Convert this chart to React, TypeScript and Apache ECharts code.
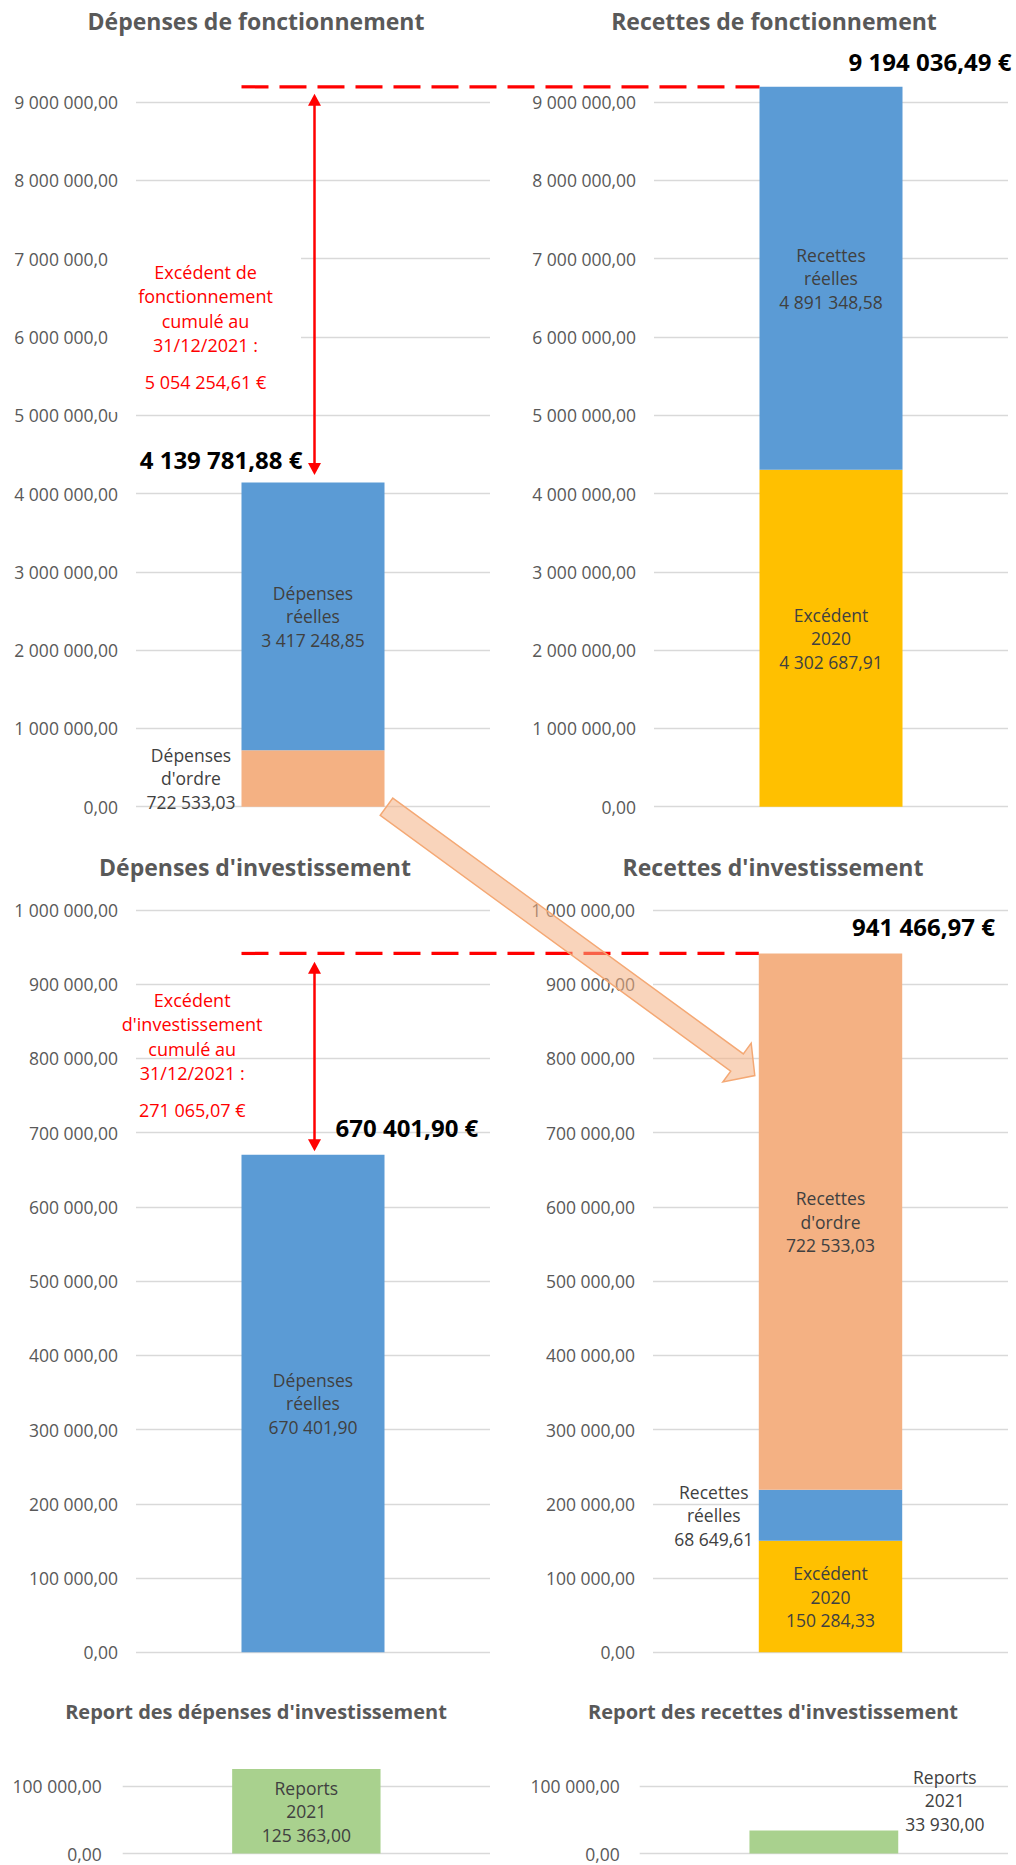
import React, { useEffect, useRef } from 'react';
import * as echarts from 'echarts';

// ---------- Data ----------
const categories = ['Total'];
const depFonctOrdre = [722533.03];
const depFonctReelles = [3417248.85];
const recFonctExcedent = [4302687.91];
const recFonctReelles = [4891348.58];
const depInvReelles = [670401.9];
const recInvExcedent = [150284.33];
const recInvReelles = [68649.61];
const recInvOrdre = [722533.03];
const reportDep = [125363.0];
const reportRec = [33930.0];

const panelTitles = [
  'Dépenses de fonctionnement',
  'Recettes de fonctionnement',
  "Dépenses d'investissement",
  "Recettes d'investissement",
  "Report des dépenses d'investissement",
  "Report des recettes d'investissement",
];
const axisMax = [9000000, 9000000, 1000000, 1000000, 100000, 100000];
const axisInterval = [1000000, 1000000, 100000, 100000, 100000, 100000];

// ---------- Layout / style ----------
const W = 1016;
const H = 1865;
const FONT = "'Open Sans', 'DejaVu Sans', sans-serif";
const BLUE = '#5B9BD5';
const ORANGE = '#F4B183';
const YELLOW = '#FFC000';
const GREEN = '#A9D18E';
const RED = '#FF0000';
const BAR_W = 0.404;
const AXIS_FS = 17.5;
const LABEL_FS = 17.5;

const grids = [
  { left: 136, top: 102, width: 354, height: 704.7 },
  { left: 654, top: 102, width: 354, height: 704.7 },
  { left: 136, top: 910, width: 354, height: 742.3 },
  { left: 653, top: 910, width: 355, height: 742.3 },
  { left: 122.7, top: 1786, width: 367.3, height: 71.3 },
  { left: 639.7, top: 1786, width: 368.3, height: 71.3 },
];
const labelMargins = [18, 18, 18, 18, 21, 20];
const labelPadBottom = [0, 0, 0, 0, 10, 10];
const titlePos = [
  [256, 21, 23],
  [774, 21, 23],
  [255, 867, 23],
  [773, 867, 23],
  [256, 1711, 20],
  [773, 1711, 20],
];

const sum = (a: number[]) => a.reduce((s, v) => s + v, 0);

function fmt(v: number): string {
  const [i, d] = Math.abs(v).toFixed(2).split('.');
  return i.replace(/\B(?=(\d{3})+(?!\d))/g, ' ') + ',' + d;
}

function lbl(prefix: string, extra: any = {}) {
  return {
    show: true,
    position: 'inside',
    formatter: (p: any) => prefix + '\n' + fmt(p.value),
    color: '#404040',
    fontSize: LABEL_FS,
    fontFamily: FONT,
    lineHeight: 23.5,
    align: 'center',
    ...extra,
  };
}

function bar(name: string, data: number[], gi: number, color: string, label: any) {
  return {
    type: 'bar',
    name,
    data,
    xAxisIndex: gi,
    yAxisIndex: gi,
    stack: 's' + gi,
    barWidth: BAR_W * 100 + '%',
    itemStyle: { color },
    label,
    clip: false,
    z: 2,
  };
}

export default function App() {
  const ref = useRef<HTMLDivElement>(null);

  useEffect(() => {
    if (!ref.current) return;
    document.body.style.margin = '0';
    const chart = echarts.init(ref.current, null, { renderer: 'svg', width: W, height: H });

    const series = [
      bar("Dépenses d'ordre", depFonctOrdre, 0, ORANGE,
        lbl("Dépenses\nd'ordre", { position: 'left', offset: [-45.5, 0] })),
      bar('Dépenses réelles', depFonctReelles, 0, BLUE, lbl('Dépenses\nréelles')),
      bar('Excédent 2020', recFonctExcedent, 1, YELLOW, lbl('Excédent\n2020')),
      bar('Recettes réelles', recFonctReelles, 1, BLUE, lbl('Recettes\nréelles')),
      bar('Dépenses réelles', depInvReelles, 2, BLUE, lbl('Dépenses\nréelles')),
      bar('Excédent 2020', recInvExcedent, 3, YELLOW, lbl('Excédent\n2020')),
      bar('Recettes réelles', recInvReelles, 3, BLUE,
        lbl('Recettes\nréelles', { position: 'left', offset: [-40, 0] })),
      bar("Recettes d'ordre", recInvOrdre, 3, ORANGE, lbl("Recettes\nd'ordre")),
      bar('Reports 2021', reportDep, 4, GREEN, lbl('Reports\n2021')),
      bar('Reports 2021', reportRec, 5, GREEN,
        lbl('Reports\n2021', { position: 'top', distance: 5, offset: [121, 10] })),
    ];

    chart.setOption({
      animation: false,
      backgroundColor: '#ffffff',
      grid: grids.map((g) => ({ ...g, containLabel: false })),
      xAxis: grids.map((_, i) => ({
        type: 'category',
        gridIndex: i,
        data: categories,
        show: false,
      })),
      yAxis: grids.map((_, i) => ({
        type: 'value',
        gridIndex: i,
        min: 0,
        max: axisMax[i],
        interval: axisInterval[i],
        axisLine: { show: false },
        axisTick: { show: false },
        splitLine: { lineStyle: { color: '#D9D9D9', width: 1.3 } },
        axisLabel: {
          formatter: (v: number) => fmt(v),
          color: '#595959',
          fontSize: AXIS_FS,
          lineHeight: 13,
          fontFamily: FONT,
          margin: labelMargins[i],
          verticalAlign: 'middle',
          padding: [0, 0, labelPadBottom[i], 0],
        },
      })),
      series,
    });

    // ---------- Annotations computed from the scales ----------
    const px = (gi: number, v: number) => chart.convertToPixel({ gridIndex: gi } as any, [0, v]) as number[];
    const half = (gi: number) => (grids[gi].width * BAR_W) / 2;

    const totDepF = sum(depFonctOrdre) + sum(depFonctReelles);
    const totRecF = sum(recFonctExcedent) + sum(recFonctReelles);
    const totDepI = sum(depInvReelles);
    const totRecI = sum(recInvExcedent) + sum(recInvReelles) + sum(recInvOrdre);

    const [cx1, yTop1] = px(0, totDepF);
    const [, yRecIn1] = px(0, totRecF);
    const [cx2, yTop2] = px(1, totRecF);
    const [cx3, yTop3] = px(2, totDepI);
    const [, yRecIn3] = px(2, totRecI);
    const [cx4, yTop4] = px(3, totRecI);
    const [, y0p1] = px(0, 0);

    const redArrow = (x: number, yA: number, yB: number) => [
      {
        type: 'line',
        z: 12,
        shape: { x1: x, y1: yA + 9, x2: x, y2: yB - 9 },
        style: { stroke: RED, lineWidth: 2.5 },
      },
      {
        type: 'polygon',
        z: 12,
        shape: { points: [[x, yA], [x - 6.5, yA + 12], [x + 6.5, yA + 12]] },
        style: { fill: RED },
      },
      {
        type: 'polygon',
        z: 12,
        shape: { points: [[x, yB], [x - 6.5, yB - 12], [x + 6.5, yB - 12]] },
        style: { fill: RED },
      },
    ];

    const dashed = (x1: number, x2: number, y: number) => ({
      type: 'line',
      z: 12,
      shape: { x1, y1: y, x2, y2: y },
      style: { stroke: RED, lineWidth: 3.2, lineDash: [27, 11] },
    });

    const txt = (text: string, x: number, y: number, o: any = {}) => ({
      type: 'text',
      z: 13,
      style: {
        text,
        x,
        y,
        align: 'center',
        verticalAlign: 'middle',
        fill: '#000000',
        font: `bold 24px ${FONT}`,
        ...o,
      },
    });

    // Block arrow (translucent orange) from panel 1 bar bottom to the panel 4 orange segment
    const tail = [cx1 + half(0) + 2, y0p1];
    const tip = [cx4 - half(3) - 4, px(3, 777000)[1]];
    const dx = tip[0] - tail[0];
    const dy = tip[1] - tail[1];
    const L = Math.hypot(dx, dy);
    const ux = dx / L, uy = dy / L;
    const nx = uy, ny = -ux;
    const sw = 10.7, hw = 24, hl = 22;
    const J = [tip[0] - ux * hl, tip[1] - uy * hl];
    const arrowPts = [
      [tail[0] + nx * sw, tail[1] + ny * sw],
      [J[0] + nx * sw, J[1] + ny * sw],
      [J[0] + nx * hw, J[1] + ny * hw],
      tip,
      [J[0] - nx * hw, J[1] - ny * hw],
      [J[0] - nx * sw, J[1] - ny * sw],
      [tail[0] - nx * sw, tail[1] - ny * sw],
    ];

    const redFont = `18px ${FONT}`;

    const graphic: any[] = [
      // titles
      ...panelTitles.map((t, i) =>
        txt(t, titlePos[i][0], titlePos[i][1], { fill: '#595959', font: `bold ${titlePos[i][2]}px ${FONT}` })
      ),
      // white text box in panel 1
      { type: 'rect', z: 11, shape: { x: 108, y: 240, width: 193, height: 172 }, style: { fill: '#ffffff' } },
      txt('Excédent de\nfonctionnement\ncumulé au\n31/12/2021 :', cx1 - 107.5, 308.5, {
        fill: RED, font: redFont, lineHeight: 24.3,
      }),
      txt(fmt(totRecF - totDepF) + ' €', cx1 - 107.5, 382, { fill: RED, font: redFont }),
      txt("Excédent\nd'investissement\ncumulé au\n31/12/2021 :", cx3 - 120.8, 1036.4, {
        fill: RED, font: redFont, lineHeight: 24.2,
      }),
      txt(fmt(totRecI - totDepI) + ' €', cx3 - 120.8, 1110, { fill: RED, font: redFont }),
      // dashed lines
      dashed(cx1 - half(0), cx2 - half(1), yTop2),
      dashed(cx3 - half(2), cx4 - half(3), yTop4),
      // red double arrows
      ...redArrow(cx1 + 1.5, yRecIn1 + 7, yTop1 - 7.6),
      ...redArrow(cx3 + 1.5, yRecIn3 + 8.3, yTop3 - 3.3),
      // totals
      txt(fmt(totDepF) + ' €', cx1 - 10.5, yTop1 - 22.6, { align: 'right' }),
      txt(fmt(totRecF) + ' €', cx2 + 99, yTop2 - 25),
      txt(fmt(totDepI) + ' €', cx3 + 22.5, yTop3 - 27, { align: 'left' }),
      txt(fmt(totRecI) + ' €', cx4 + 93, yTop4 - 26.7),
      // block arrow
      {
        type: 'polygon',
        z: 20,
        shape: { points: arrowPts },
        style: { fill: 'rgba(244,177,131,0.55)', stroke: '#F4A874', lineWidth: 1.5 },
      },
    ];

    chart.setOption({ graphic });

    return () => chart.dispose();
  }, []);

  return <div ref={ref} style={{ width: W, height: H, position: 'absolute', left: 0, top: 0 }} />;
}
